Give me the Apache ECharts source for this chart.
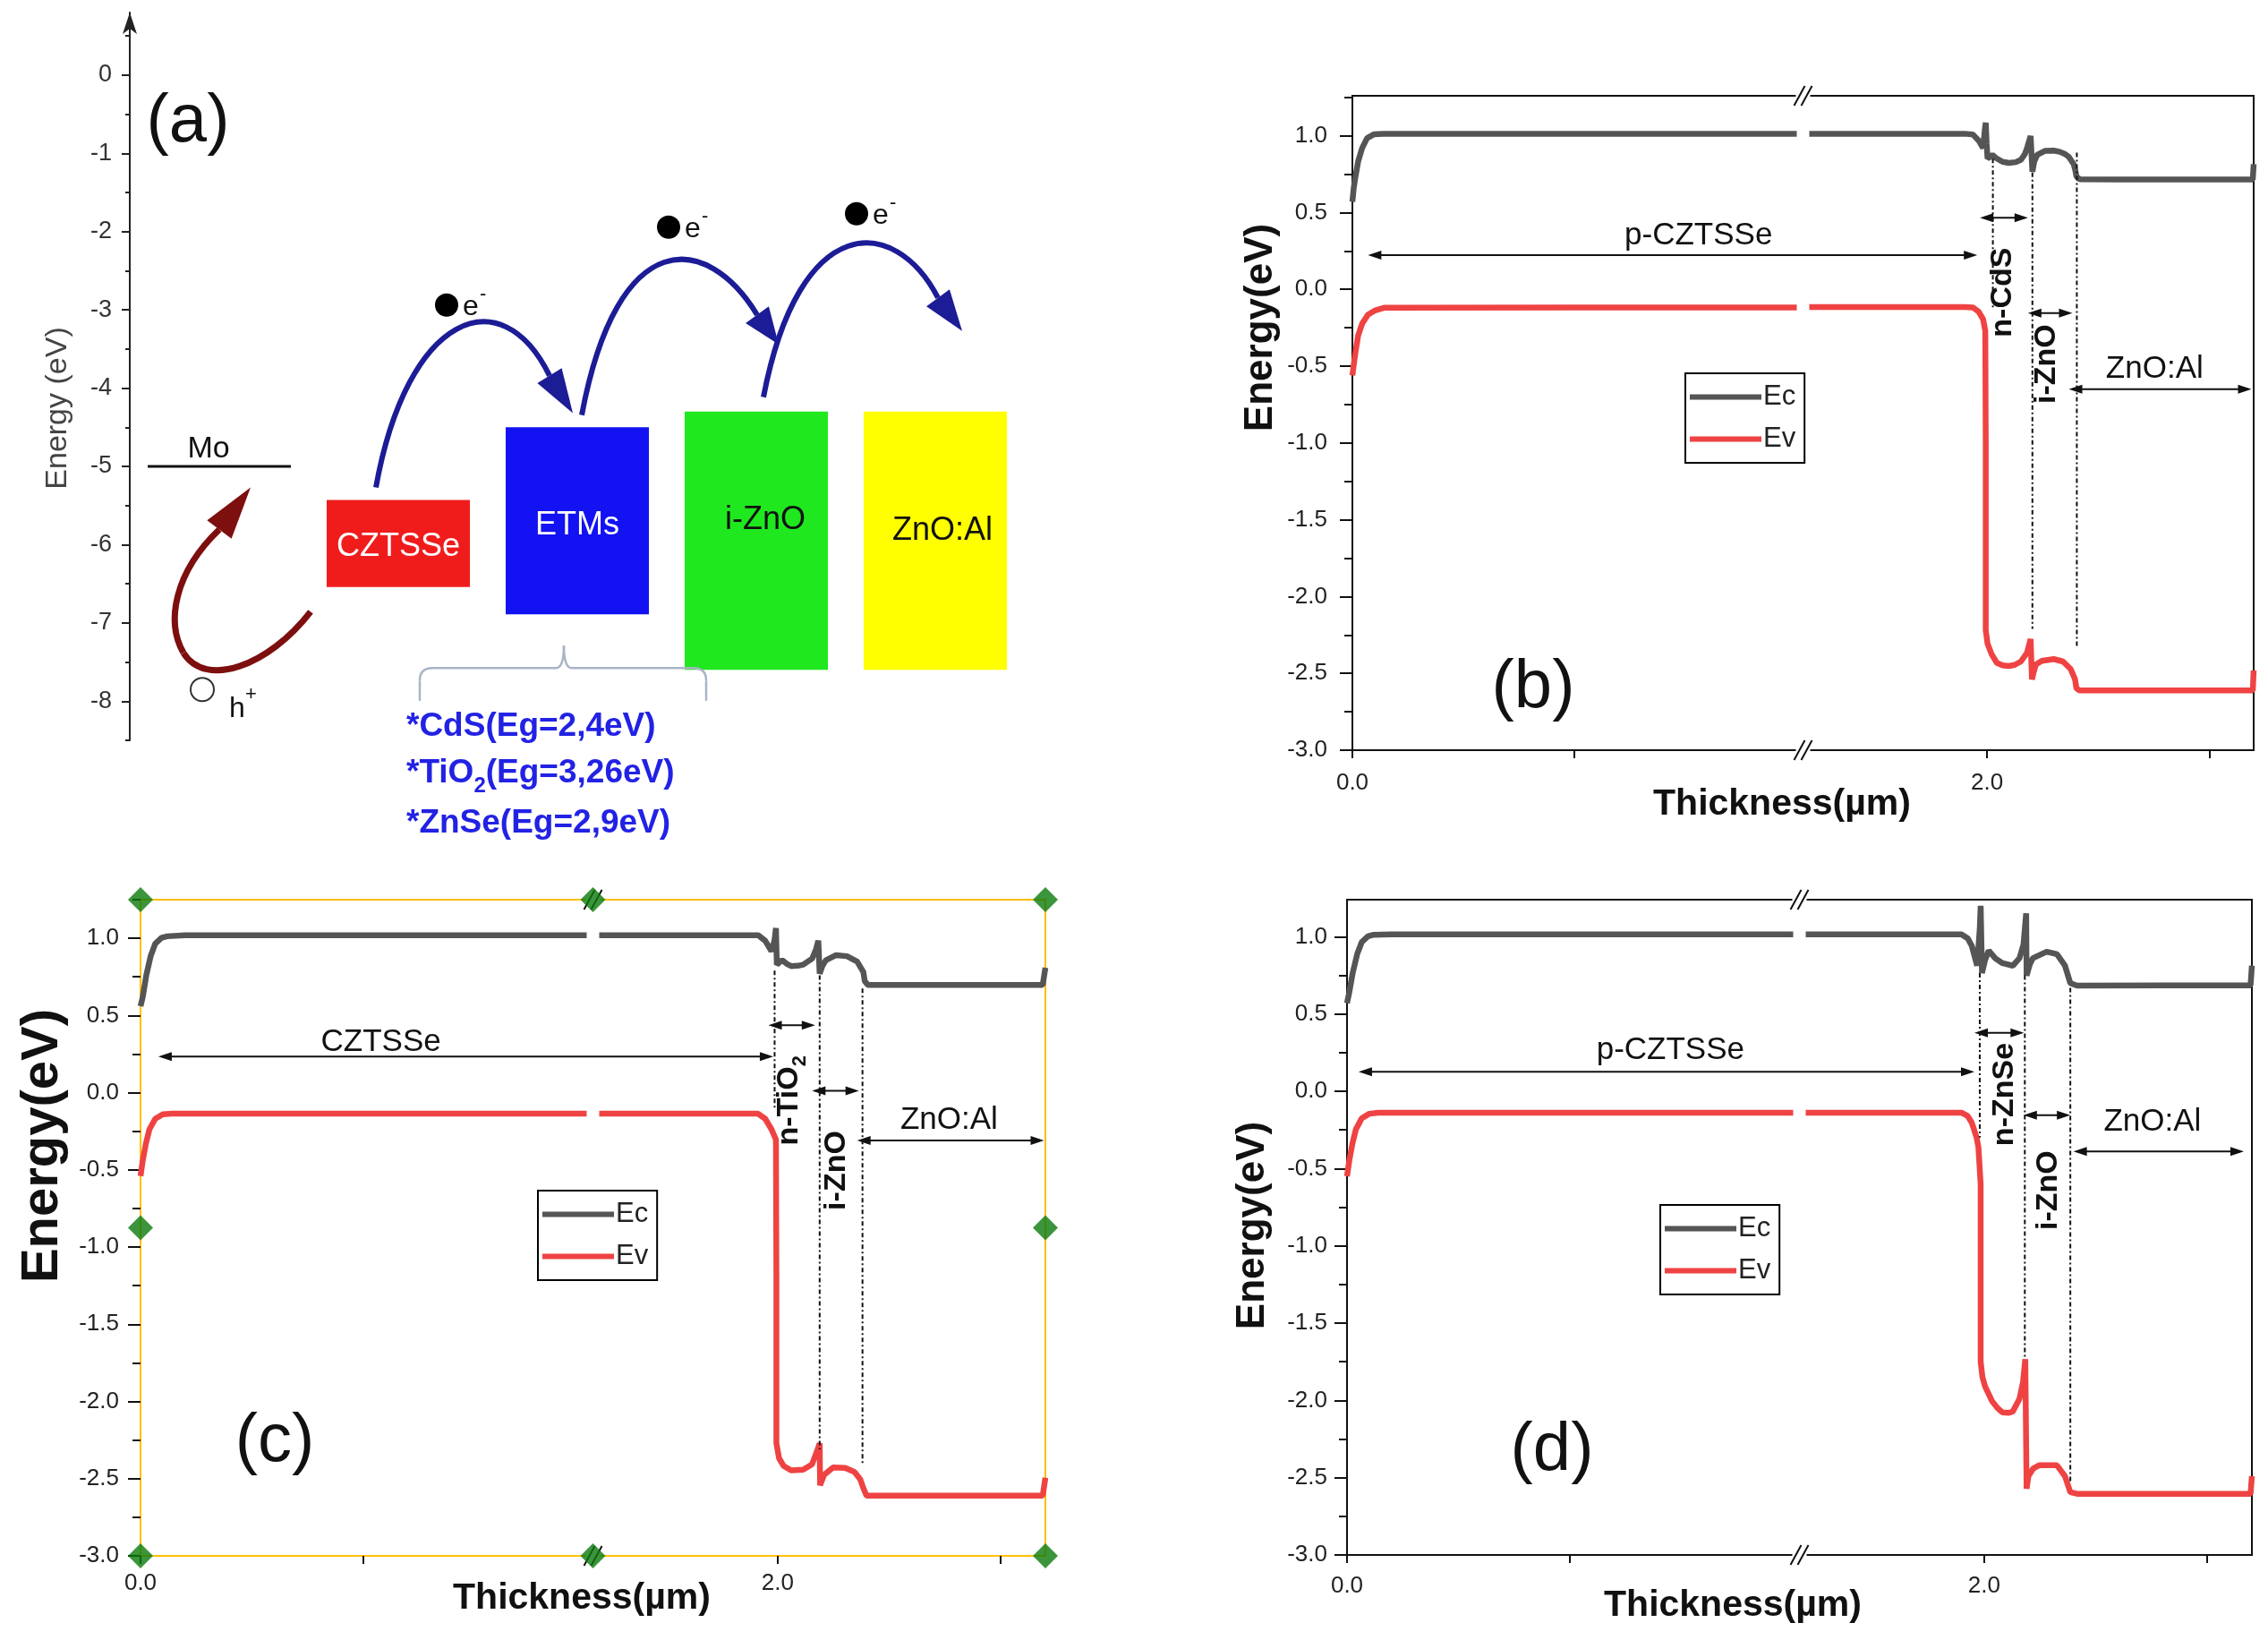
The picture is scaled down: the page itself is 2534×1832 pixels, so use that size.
<!DOCTYPE html>
<html><head><meta charset="utf-8">
<script src="https://cdn.jsdelivr.net/npm/echarts@6.0.0/dist/echarts.min.js"></script>
<style>html,body{margin:0;padding:0;background:#fff}#main{width:2534px;height:1832px}</style>
</head><body><div id="main"></div>
<script>
// ================= DATA =================
// Panel (a): band-alignment schematic (energy in eV)
const aLayers = ['Mo', 'CZTSSe', 'ETMs', 'i-ZnO', 'ZnO:Al'];
const aTop = [-5.0, -5.43, -4.5, -4.3, -4.3];
const aBottom = [-5.0, -6.54, -6.89, -7.6, -7.6];
const aLabelX = [-0.06, 1.0, 2.0, 3.05, 4.04];
const aLabelE = [-4.78, -6.03, -5.75, -5.69, -5.82];
const aTicks = [0, -1, -2, -3, -4, -5, -6, -7, -8];
const aMinorTicks = [0.5, -0.5, -1.5, -2.5, -3.5, -4.5, -5.5, -6.5, -7.5, -8.5];
const etmNotes = ['*CdS(Eg=2,4eV)', '*TiO2(Eg=3,26eV)', '*ZnSe(Eg=2,9eV)'];
const etmNoteE = [-8.331, -8.926, -9.566];
// electron hop arrows: start, ctrl1, ctrl2, end, tip  (x in layer units, y in eV)
const eArrows = [
  [[0.875, -5.269], [1.05, -3.04], [1.575, -2.583], [1.845, -3.84], [1.975, -4.32]],
  [[2.025, -4.343], [2.225, -1.897], [2.725, -2.011], [3.005, -3.063], [3.125, -3.44]],
  [[3.04, -4.114], [3.24, -1.726], [3.775, -1.783], [4.015, -2.846], [4.15, -3.269]]
];
const electrons = [[1.27, -2.937], [2.51, -1.943], [3.56, -1.771]];
const holeArrow = [[0.51, -6.857], [0.275, -7.554], [-0.075, -7.84], [-0.2, -7.383],
                   [-0.3, -6.983], [-0.25, -6.354], [0.0, -5.806], [0.175, -5.269]];
const hole = [-0.095, -7.851];
const bracketX = [1.12, 1.925, 2.72];
const bracketE = [-7.994, -7.577, -7.291];

// Panels (b)-(d): axes
const yTickValues = [-3, -2.5, -2, -1.5, -1, -0.5, 0, 0.5, 1];
const yMinorTickValues = [-2.75, -2.25, -1.75, -1.25, -0.75, -0.25, 0.25, 0.75, 1.25];
const xTickValues = [0, 0.5, 2.0, 2.5];
const xTickLabelValues = [0, 2.0];
const xBreak = [1.0, 1.6];

// Panel (b) CdS
const bEc = [[0,0.57],[0.003,0.66],[0.006,0.717],[0.013,0.833],[0.022,0.92],[0.033,0.984],[0.049,1.01],[0.07,1.013],[0.5,1.013],[1.0,1.013],[1.6,1.013],[1.95,1.013],[1.968,1.008],[1.981,0.969],[1.991,0.92],[1.995,1.04],[1.997,1.085],[1.999,0.95],[2.001,0.852],[2.006,0.86],[2.012,0.875],[2.02,0.855],[2.035,0.83],[2.049,0.823],[2.065,0.828],[2.076,0.843],[2.085,0.88],[2.09,0.92],[2.095,0.97],[2.098,0.998],[2.1,0.88],[2.102,0.765],[2.106,0.83],[2.113,0.876],[2.13,0.901],[2.15,0.903],[2.164,0.895],[2.176,0.88],[2.184,0.862],[2.195,0.814],[2.199,0.77],[2.201,0.736],[2.208,0.717],[2.3,0.715],[2.5,0.715],[2.598,0.715],[2.6,0.815]];
const bEv = [[0,-0.56],[0.004,-0.47],[0.008,-0.39],[0.013,-0.3],[0.022,-0.223],[0.035,-0.165],[0.052,-0.136],[0.071,-0.12],[0.5,-0.118],[1.0,-0.118],[1.6,-0.116],[1.95,-0.116],[1.968,-0.118],[1.981,-0.145],[1.991,-0.194],[1.996,-0.271],[1.997,-1.0],[1.997,-2.219],[2.001,-2.306],[2.01,-2.374],[2.022,-2.432],[2.035,-2.448],[2.049,-2.452],[2.062,-2.445],[2.076,-2.423],[2.09,-2.365],[2.098,-2.277],[2.101,-2.539],[2.105,-2.49],[2.11,-2.442],[2.123,-2.419],[2.15,-2.407],[2.171,-2.423],[2.188,-2.471],[2.198,-2.539],[2.201,-2.597],[2.208,-2.611],[2.4,-2.611],[2.598,-2.611],[2.6,-2.48]];
const bDividers = [[2.013, 0.85, -0.12], [2.102, 0.76, -2.21], [2.202, 0.89, -2.33]];
const bArrows = [[0.035, 1.978, 0.223], [1.984, 2.092, 0.466], [2.092, 2.192, -0.155], [2.184, 2.595, -0.65]];
const bLabels = [['p-CZTSSe', 0.779, 0.35, 0], ['n-CdS', 2.035, -0.02, 1], ['i-ZnO', 2.133, -0.486, 1], ['ZnO:Al', 2.377, -0.52, 0]];

// Panel (c) TiO2
const cEc = [[0,0.56],[0.005,0.62],[0.013,0.762],[0.023,0.887],[0.033,0.965],[0.047,1.003],[0.06,1.013],[0.1,1.02],[1.0,1.02],[1.6,1.02],[1.956,1.02],[1.972,0.984],[1.986,0.916],[1.993,0.99],[1.996,1.066],[1.998,0.829],[2.004,0.845],[2.01,0.858],[2.02,0.835],[2.03,0.82],[2.045,0.822],[2.057,0.829],[2.077,0.868],[2.086,0.93],[2.091,0.985],[2.094,0.771],[2.1,0.82],[2.108,0.858],[2.131,0.891],[2.155,0.884],[2.178,0.849],[2.192,0.781],[2.195,0.723],[2.202,0.698],[2.4,0.698],[2.594,0.698],[2.6,0.81]];
const cEv = [[0,-0.54],[0.005,-0.44],[0.012,-0.33],[0.02,-0.237],[0.033,-0.169],[0.05,-0.14],[0.07,-0.136],[1.0,-0.136],[1.6,-0.136],[1.956,-0.136],[1.972,-0.169],[1.986,-0.237],[1.996,-0.304],[1.997,-1.2],[1.997,-2.271],[2.003,-2.368],[2.013,-2.417],[2.03,-2.446],[2.057,-2.442],[2.077,-2.407],[2.087,-2.33],[2.094,-2.271],[2.095,-2.543],[2.104,-2.475],[2.124,-2.427],[2.151,-2.43],[2.172,-2.456],[2.185,-2.504],[2.192,-2.562],[2.199,-2.61],[2.4,-2.61],[2.594,-2.61],[2.6,-2.494]];
const cDividers = [[1.993, 0.79, -0.1], [2.094, 0.76, -2.31], [2.19, 0.675, -2.41]];
const cArrows = [[0.04, 1.99, 0.234], [1.979, 2.084, 0.437], [2.077, 2.182, 0.012], [2.178, 2.597, -0.31]];
const cLabels = [['CZTSSe', 0.539, 0.327, 0], ['n-TiO2', 2.026, -0.05, 1], ['i-ZnO', 2.131, -0.504, 1], ['ZnO:Al', 2.384, -0.178, 0]];
const cHandles = [[0, 1.25], [1.3, 1.25], [2.6, 1.25], [0, -0.875], [2.6, -0.875], [0, -3], [1.3, -3], [2.6, -3]];

// Panel (d) ZnSe
const dEc = [[0,0.57],[0.005,0.64],[0.013,0.77],[0.023,0.89],[0.033,0.965],[0.047,1.003],[0.06,1.013],[0.1,1.016],[1.0,1.016],[1.6,1.016],[1.949,1.016],[1.963,0.99],[1.972,0.942],[1.984,0.813],[1.99,1.05],[1.992,1.2],[1.995,0.765],[2.002,0.85],[2.01,0.91],[2.025,0.86],[2.041,0.829],[2.064,0.813],[2.079,0.861],[2.088,0.95],[2.094,1.151],[2.095,0.749],[2.102,0.82],[2.109,0.861],[2.14,0.903],[2.163,0.887],[2.181,0.813],[2.193,0.7],[2.208,0.684],[2.4,0.686],[2.597,0.686],[2.6,0.813]];
const dEv = [[0,-0.55],[0.005,-0.45],[0.012,-0.34],[0.02,-0.245],[0.033,-0.175],[0.05,-0.145],[0.07,-0.138],[1.0,-0.138],[1.6,-0.138],[1.949,-0.138],[1.963,-0.16],[1.972,-0.202],[1.983,-0.3],[1.987,-0.363],[1.992,-0.6],[1.992,-1.749],[1.996,-1.85],[2.002,-1.91],[2.018,-2.007],[2.03,-2.05],[2.041,-2.078],[2.055,-2.08],[2.064,-2.072],[2.079,-1.99],[2.087,-1.88],[2.092,-1.733],[2.095,-2.571],[2.099,-2.49],[2.11,-2.44],[2.123,-2.42],[2.163,-2.42],[2.181,-2.49],[2.193,-2.594],[2.208,-2.604],[2.4,-2.604],[2.597,-2.604],[2.6,-2.49]];
const dDividers = [[1.99, 0.765, -0.3], [2.091, 0.75, -1.72], [2.193, 0.67, -2.54]];
const dArrows = [[0.026, 1.978, 0.127], [1.978, 2.089, 0.378], [2.088, 2.193, -0.154], [2.2, 2.582, -0.389]];
const dLabels = [['p-CZTSSe', 0.725, 0.265, 0], ['n-ZnSe', 2.045, -0.02, 1], ['i-ZnO', 2.144, -0.64, 1], ['ZnO:Al', 2.377, -0.196, 0]];

// ================= STYLE / LAYOUT =================
const FONT = '"Liberation Sans", Arial, Helvetica, sans-serif';
const EC_COLOR = '#555555', EV_COLOR = '#ef4343';
const aColors = ['#111111', '#f01c1c', '#1212f2', '#1fe81f', '#ffff00'];
const aTextColors = ['#111111', '#ffffff', '#ffffff', '#111111', '#111111'];

const panels = [
  { key: 'b', grid: {left: 1511, top: 107, width: 1007, height: 731}, yMax: 1.26, ec: bEc, ev: bEv,
    border: '#111', yLabelMargin: 28, xLabelMargin: 24, legend: [1883, 417],
    dividers: bDividers, arrows: bArrows, labels: bLabels,
    yTitle: [1409, 366, 44], xTitle: [1991, 899], letter: ['(b)', 1713, 769] },
  { key: 'c', grid: {left: 157, top: 1005, width: 1011, height: 733}, yMax: 1.25, ec: cEc, ev: cEv,
    border: '#ffc000', yLabelMargin: 24, xLabelMargin: 18, legend: [601, 1330],
    dividers: cDividers, arrows: cArrows, labels: cLabels,
    yTitle: [48, 1280, 58], xTitle: [650, 1786], letter: ['(c)', 307, 1611] },
  { key: 'd', grid: {left: 1505, top: 1005, width: 1011, height: 732}, yMax: 1.24, ec: dEc, ev: dEv,
    border: '#111', yLabelMargin: 22, xLabelMargin: 22, legend: [1855, 1346],
    dividers: dDividers, arrows: dArrows, labels: dLabels,
    yTitle: [1400, 1369, 44], xTitle: [1936, 1794], letter: ['(d)', 1734, 1621] }
];

// ================= OPTION =================
const grids = [{left: 145, top: 14, width: 1000, height: 813, outerBoundsMode: 'none'}];
const xAxes = [{gridIndex: 0, type: 'value', min: -0.5, max: 4.5, show: false}];
const yAxes = [
  {gridIndex: 0, type: 'value', min: -8.5, max: 0.8, position: 'left',
   axisLine: {show: true, onZero: false, symbol: ['none', 'arrow'], symbolSize: [12, 24], lineStyle: {color: '#222', width: 2}},
   axisTick: {show: true, customValues: aTicks, length: 9, lineStyle: {color: '#222', width: 2}},
   axisLabel: {customValues: aTicks, formatter: v => String(v), fontSize: 27, color: '#333', fontFamily: FONT, margin: 20},
   splitLine: {show: false}},
  {gridIndex: 0, type: 'value', min: -8.5, max: 0.8, position: 'left',
   axisLine: {show: false, onZero: false}, axisTick: {show: true, customValues: aMinorTicks, length: 5, lineStyle: {color: '#222', width: 2}},
   axisLabel: {show: false}, splitLine: {show: false}}
];
const series = [{
  type: 'custom', xAxisIndex: 0, yAxisIndex: 0, clip: false, silent: true,
  data: aLayers.map((n, i) => [i, aTop[i], aBottom[i], aLabelX[i], aLabelE[i]]),
  renderItem(params, api) {
    const k = params.dataIndex;
    const i = api.value(0), t = api.value(1), b = api.value(2);
    const p1 = api.coord([i - 0.4, t]), p2 = api.coord([i + 0.4, b]);
    const pt = api.coord([api.value(3), api.value(4)]);
    const txt = {type: 'text', x: pt[0], y: pt[1], style: {text: aLayers[k], fill: aTextColors[k], fontSize: k === 0 ? 34 : 36,
      fontFamily: FONT, align: 'center', verticalAlign: 'middle', textAlign: 'center', textVerticalAlign: 'middle'}};
    if (t === b) {
      return {type: 'group', children: [
        {type: 'line', shape: {x1: p1[0], y1: p1[1], x2: p2[0], y2: p1[1]}, style: {stroke: aColors[k], lineWidth: 3}}, txt]};
    }
    return {type: 'group', children: [
      {type: 'rect', shape: {x: p1[0], y: p1[1], width: p2[0] - p1[0], height: p2[1] - p1[1]}, style: {fill: aColors[k]}}, txt]};
  }
}];
const legends = [];

panels.forEach((p, k) => {
  const gi = k + 1;
  grids.push(Object.assign({show: true, borderColor: p.border, borderWidth: 2, backgroundColor: 'transparent', outerBoundsMode: 'none'}, p.grid));
  xAxes.push({gridIndex: gi, type: 'value', min: 0, max: 2.6,
    breaks: [{start: xBreak[0], end: xBreak[1], gap: '1.4%'}],
    breakArea: {show: true, itemStyle: {color: '#fff', borderColor: '#fff', borderWidth: 0, opacity: 1},
      zigzagAmplitude: 0, zigzagZ: 100, expandOnClick: false},
    axisLine: {show: true, onZero: false, lineStyle: {color: p.border, width: 2}},
    axisTick: {show: true, customValues: xTickValues, length: 9, lineStyle: {color: '#111', width: 2}},
    axisLabel: {customValues: xTickLabelValues, formatter: v => v.toFixed(1), fontSize: 26, color: '#222', fontFamily: FONT, margin: p.xLabelMargin},
    splitLine: {show: false}});
  const yMain = yAxes.length;
  yAxes.push({gridIndex: gi, type: 'value', min: -3, max: p.yMax, position: 'left',
    axisLine: {show: true, onZero: false, lineStyle: {color: p.border, width: 2}},
    axisTick: {show: true, customValues: yTickValues, length: 14, lineStyle: {color: '#111', width: 2}},
    axisLabel: {customValues: yTickValues, formatter: v => v.toFixed(1), fontSize: 26, color: '#222', fontFamily: FONT, margin: p.yLabelMargin},
    splitLine: {show: false}});
  yAxes.push({gridIndex: gi, type: 'value', min: -3, max: p.yMax, position: 'left',
    axisLine: {show: false, onZero: false},
    axisTick: {show: true, customValues: yMinorTickValues.filter(v => v <= p.yMax), length: 9, lineStyle: {color: '#111', width: 2}},
    axisLabel: {show: false}, splitLine: {show: false}});
  series.push({name: 'Ec', type: 'line', xAxisIndex: gi, yAxisIndex: yMain, data: p.ec, symbol: 'none', showSymbol: false,
    lineStyle: {color: EC_COLOR, width: 6.5}, itemStyle: {color: EC_COLOR}, z: 3});
  series.push({name: 'Ev', type: 'line', xAxisIndex: gi, yAxisIndex: yMain, data: p.ev, symbol: 'none', showSymbol: false,
    lineStyle: {color: EV_COLOR, width: 6.5}, itemStyle: {color: EV_COLOR}, z: 3});
  p.seriesIndex = series.length - 2;
  p.xAxisIndex = gi; p.yAxisIndex = yMain;
  legends.push({data: ['Ec', 'Ev'], left: p.legend[0], top: p.legend[1], orient: 'vertical', z: 180,
    icon: 'rect', itemWidth: 80, itemHeight: 6, itemGap: 16, padding: [11, 10, 11, 5],
    borderColor: '#000', borderWidth: 2, borderRadius: 0, backgroundColor: '#fff',
    textStyle: {fontSize: 31, color: '#222', fontFamily: FONT, padding: [0, 0, 0, -3]}, selectedMode: false});
});
// selection handles on panel (c)
series.push({type: 'scatter', xAxisIndex: panels[1].xAxisIndex, yAxisIndex: panels[1].yAxisIndex, data: cHandles,
  symbol: 'diamond', symbolSize: 28, itemStyle: {color: '#0b7a0b'}, clip: false, z: 200, silent: true});

const chart = echarts.init(document.getElementById('main'), null, {renderer: 'canvas'});
chart.setOption({
  animation: false, backgroundColor: '#fff',
  grid: grids, xAxis: xAxes, yAxis: yAxes, series: series, legend: legends
});

// ================= ANNOTATIONS (data coords -> pixels) =================
const g = [];
function T(x, y, text, size, weight, color, rot, align, rich) {
  const st = {text: text, fontSize: size, fontWeight: weight, fontFamily: FONT, fill: color,
      align: align || 'center', verticalAlign: 'middle', textAlign: align || 'center', textVerticalAlign: 'middle'};
  if (rich) st.rich = rich;
  return {type: 'text', x: x, y: y, rotation: rot || 0, z: 170, style: st};
}
function head(base, tip, hw, color, z) {
  const dx = tip[0] - base[0], dy = tip[1] - base[1], L = Math.hypot(dx, dy);
  const nx = -dy / L * hw, ny = dx / L * hw;
  return {type: 'polygon', z: z, shape: {points: [tip, [base[0] + nx, base[1] + ny], [base[0] - nx, base[1] - ny]]}, style: {fill: color}};
}
function ln(a, b, color, w, z, dash) {
  const st = {stroke: color, lineWidth: w};
  if (dash) st.lineDash = dash;
  return {type: 'line', z: z, shape: {x1: a[0], y1: a[1], x2: b[0], y2: b[1]}, style: st};
}
function bez(a, c1, c2, b, color, w, z) {
  const shape = {x1: a[0], y1: a[1], cpx1: c1[0], cpy1: c1[1], x2: b[0], y2: b[1]};
  if (c2) { shape.cpx2 = c2[0]; shape.cpy2 = c2[1]; }
  return {type: 'bezierCurve', z: z, shape: shape, style: {stroke: color, lineWidth: w, fill: null}};
}
function dblArrow(x1, x2, y) {
  const L = 15, H = 5;
  return [
    ln([x1 + 4, y], [x2 - 4, y], '#111', 2, 160),
    head([x1 + L, y], [x1, y], H, '#111', 161),
    head([x2 - L, y], [x2, y], H, '#111', 161)
  ];
}
function breakMark(cx, cy) {
  const out = [{type: 'rect', z: 165, shape: {x: cx - 8, y: cy - 4, width: 16, height: 8}, style: {fill: '#fff'}}];
  [-4, 4].forEach(d => out.push(ln([cx + d - 6, cy + 11], [cx + d + 6, cy - 11], '#111', 2, 166)));
  return out;
}

// Panel (a)
const pa = (x, y) => chart.convertToPixel({seriesIndex: 0}, [x, y]);
const BLUE = '#1c1c96', BROWN = '#7d0f0f';
eArrows.forEach(a => {
  const [s, c1, c2, e, tip] = a.map(q => pa(q[0], q[1]));
  g.push(bez(s, c1, c2, e, BLUE, 6, 50));
  g.push(head(e, tip, 16, BLUE, 51));
});
{
  const h = holeArrow.map(q => pa(q[0], q[1]));
  g.push(bez(h[0], h[1], h[2], h[3], BROWN, 7, 50));
  g.push(bez(h[3], h[4], h[5], h[6], BROWN, 7, 50));
  g.push(head(h[6], h[7], 17, BROWN, 51));
}
electrons.forEach(q => {
  const c = pa(q[0], q[1]);
  g.push({type: 'circle', z: 60, shape: {cx: c[0], cy: c[1], r: 13}, style: {fill: '#000'}});
  g.push(T(c[0] + 18, c[1] + 2, 'e', 32, 'normal', '#111', 0, 'left'));
  g.push(T(c[0] + 37, c[1] - 12, '-', 22, 'normal', '#111', 0, 'left'));
});
{
  const c = pa(hole[0], hole[1]);
  g.push({type: 'circle', z: 60, shape: {cx: c[0], cy: c[1], r: 13}, style: {fill: '#fff', stroke: '#333', lineWidth: 2}});
  g.push(T(c[0] + 30, c[1] + 22, 'h', 32, 'normal', '#111', 0, 'left'));
  g.push(T(c[0] + 48, c[1] + 6, '+', 22, 'normal', '#111', 0, 'left'));
}
{
  const L0 = pa(bracketX[0], bracketE[0]), Lh = pa(bracketX[0], bracketE[1]);
  const N = pa(bracketX[1], bracketE[2]), R0 = pa(bracketX[2], bracketE[0]);
  const yh = Lh[1], r = 14, r2 = 9, col = '#a9b4c6';
  g.push(ln(L0, [L0[0], yh + r], col, 2.5, 40));
  g.push(bez([L0[0], yh + r], [L0[0], yh], null, [L0[0] + r, yh], col, 2.5, 40));
  g.push(ln([L0[0] + r, yh], [N[0] - r2, yh], col, 2.5, 40));
  g.push(bez([N[0] - r2, yh], [N[0], yh], null, N, col, 2.5, 40));
  g.push(bez(N, [N[0], yh], null, [N[0] + r2, yh], col, 2.5, 40));
  g.push(ln([N[0] + r2, yh], [R0[0] - r, yh], col, 2.5, 40));
  g.push(bez([R0[0] - r, yh], [R0[0], yh], null, [R0[0], yh + r], col, 2.5, 40));
  g.push(ln([R0[0], yh + r], R0, col, 2.5, 40));
}
etmNotes.forEach((s, i) => {
  const c = pa(1.045, etmNoteE[i]);
  const m = s.match(/^(\*TiO)2(.*)$/);
  if (m) {
    g.push(T(c[0], c[1], `{a|${m[1]}}{s|2}{a|${m[2]}}`, 37, 'bold', '#2222e4', 0, 'left', {
      a: {fontSize: 37, fontWeight: 'bold', fontFamily: FONT, fill: '#2222e4', color: '#2222e4'},
      s: {fontSize: 24, fontWeight: 'bold', fontFamily: FONT, fill: '#2222e4', color: '#2222e4', verticalAlign: 'bottom', padding: [0, 0, -8, 0]}}));
  } else {
    g.push(T(c[0], c[1], s, 37, 'bold', '#2222e4', 0, 'left'));
  }
});
g.push(T(65, 456, 'Energy (eV)', 34, 'normal', '#444', Math.PI / 2));
g.push(T(210, 137, '(a)', 76, 'normal', '#111'));

// Panels (b)-(d)
panels.forEach(p => {
  const P = (x, y) => chart.convertToPixel({seriesIndex: p.seriesIndex}, [x, y]);
  p.dividers.forEach(dv => {
    g.push(ln(P(dv[0], dv[1]), P(dv[0], dv[2]), '#111', 2, 150, [5, 3, 2, 3]));
  });
  p.arrows.forEach(ar => {
    const a = P(ar[0], ar[2]), b = P(ar[1], ar[2]);
    dblArrow(a[0], b[0], a[1]).forEach(e => g.push(e));
  });
  p.labels.forEach(lb => {
    const c = P(lb[1], lb[2]);
    if (lb[3]) {
      const m = lb[0].match(/^(n-TiO)2$/);
      if (m) {
        g.push(T(c[0], c[1], `{b|${m[1]}}{s|2}`, 34, 'bold', '#111', Math.PI / 2, 'center', {
          b: {fontSize: 34, fontWeight: 'bold', fontFamily: FONT, fill: '#111', color: '#111'},
          s: {fontSize: 22, fontWeight: 'bold', fontFamily: FONT, fill: '#111', color: '#111', verticalAlign: 'bottom', padding: [0, 0, -6, 0]}}));
      } else {
        g.push(T(c[0], c[1], lb[0], 34, 'bold', '#111', Math.PI / 2));
      }
    } else {
      g.push(T(c[0], c[1], lb[0], 35, 'normal', '#111'));
    }
  });
  const bs = P(xBreak[0], p.yMax), be = P(xBreak[1], p.yMax), bb = P(xBreak[0], -3);
  const cx = (bs[0] + be[0]) / 2;
  breakMark(cx, bs[1]).forEach(e => g.push(e));
  breakMark(cx, bb[1]).forEach(e => g.push(e));
  g.push(T(p.yTitle[0], p.yTitle[1], 'Energy(eV)', p.yTitle[2], 'bold', '#111', Math.PI / 2));
  g.push(T(p.xTitle[0], p.xTitle[1], 'Thickness(\u00b5m)', 41, 'bold', '#111'));
  g.push(T(p.letter[1], p.letter[2], p.letter[0], 76, 'normal', '#111'));
});

chart.setOption({graphic: {elements: g}});
</script></body></html>
